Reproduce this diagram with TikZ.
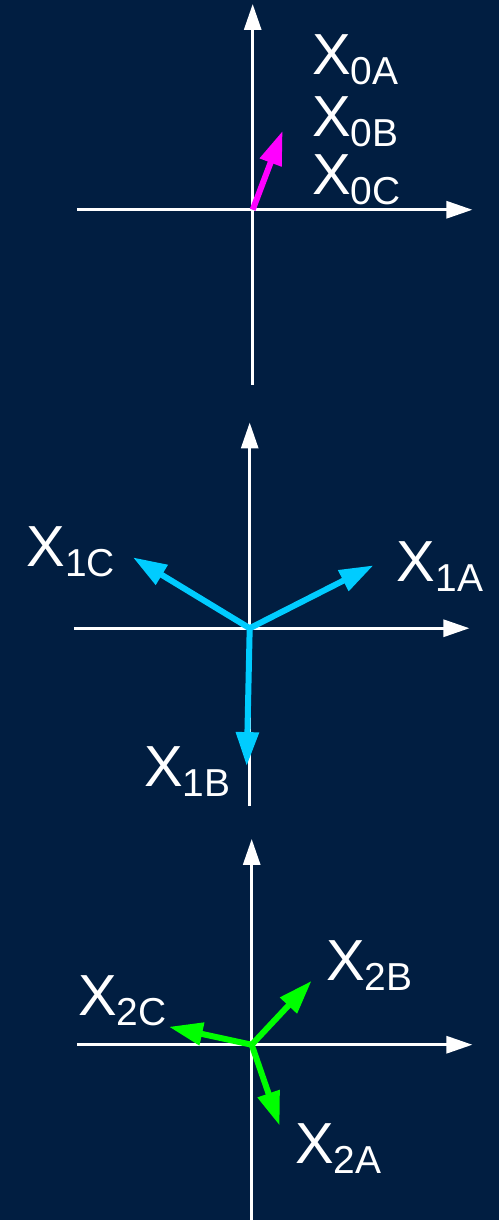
\documentclass[tikz,border=0pt]{standalone}
\usepackage{fontspec}
\setmainfont{Liberation Sans}
\usetikzlibrary{arrows.meta}
\definecolor{navy}{HTML}{011E41}
\definecolor{zeroseq}{HTML}{FF00FF}
\definecolor{posseq}{HTML}{00CCFF}
\definecolor{negseq}{HTML}{00FF00}
\newcommand{\xlbl}[1]{X\raisebox{-5pt}{\fontsize{19.5}{20}\selectfont#1}}
\tikzset{
  axis/.style={white, line width=1.5pt, -{Triangle[length=13pt,width=8.5pt]}},
  vec/.style={line width=3pt, -{Triangle[length=17pt,width=11pt]}},
  lbl/.style={text=white, anchor=base west, inner sep=0pt, font=\fontsize{29}{31}\selectfont}
}

\begin{document}
\begin{tikzpicture}[x=0.5pt, y=-0.5pt]
  \fill[navy] (0,0) rectangle (500,1221);

  % zero sequence
  \coordinate (o0) at (253,210);
  \coordinate (v0s) at (253,385);
  \coordinate (v0e) at (253,4);
  \coordinate (h0s) at (77,210);
  \coordinate (h0e) at (473,210);
  \coordinate (t0) at (283,131);
  \draw[axis] (v0s) -- (v0e);
  \draw[axis] (h0s) -- (h0e);
  \draw[vec, zeroseq] (o0) -- (t0);
  \node[lbl] (l0a) at (312,75) {\xlbl{0A}};
  \node[lbl] (l0b) at (312,137) {\xlbl{0B}};
  \node[lbl] (l0c) at (312,195) {\xlbl{0C}};

  % positive sequence
  \coordinate (o1) at (250,629);
  \coordinate (v1s) at (250,807);
  \coordinate (v1e) at (250,423);
  \coordinate (h1s) at (74,629);
  \coordinate (h1e) at (470,629);
  \coordinate (t1a) at (374,566);
  \coordinate (t1b) at (247,767);
  \coordinate (t1c) at (133,558);
  \draw[axis] (v1s) -- (v1e);
  \draw[axis] (h1s) -- (h1e);
  \draw[vec, posseq] (o1) -- (t1a);
  \draw[vec, posseq] (o1) -- (t1b);
  \draw[vec, posseq] (o1) -- (t1c);
  \node[lbl] (l1a) at (397,582) {\xlbl{1A}};
  \node[lbl] (l1b) at (144,787) {\xlbl{1B}};
  \node[lbl] (l1c) at (26,567) {\xlbl{1C}};

  % negative sequence
  \coordinate (o2) at (252,1046);
  \coordinate (v2s) at (252,1221);
  \coordinate (v2e) at (252,840);
  \coordinate (h2s) at (77,1046);
  \coordinate (h2e) at (473,1046);
  \coordinate (t2a) at (280,1127);
  \coordinate (t2b) at (312,982);
  \coordinate (t2c) at (169,1028);
  \draw[axis] (v2s) -- (v2e);
  \draw[axis] (h2s) -- (h2e);
  \draw[vec, negseq] (o2) -- (t2a);
  \draw[vec, negseq] (o2) -- (t2b);
  \draw[vec, negseq] (o2) -- (t2c);
  \node[lbl] (l2a) at (295,1165) {\xlbl{2A}};
  \node[lbl] (l2b) at (326,982) {\xlbl{2B}};
  \node[lbl] (l2c) at (78,1017) {\xlbl{2C}};
\end{tikzpicture}
\end{document}
